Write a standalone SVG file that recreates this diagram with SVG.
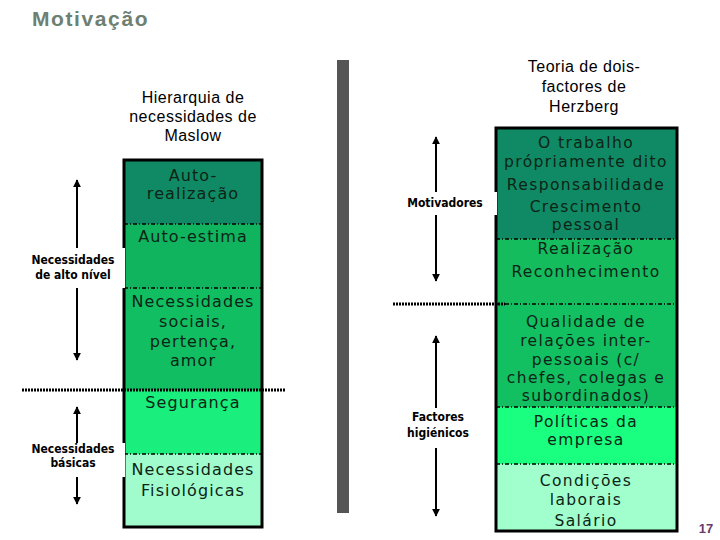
<svg xmlns="http://www.w3.org/2000/svg" width="720" height="540" viewBox="0 0 720 540">
<style>
.t{font-family:"DejaVu Sans",Verdana,sans-serif;font-size:16px;fill:#0d2416;text-anchor:middle;letter-spacing:1.1px}
.r{font-size:15.5px;letter-spacing:1.4px}
.h{font-family:"Liberation Sans",Arial,sans-serif;font-size:16px;fill:#000;text-anchor:middle;letter-spacing:0.5px}
.l{font-family:"DejaVu Sans Condensed","DejaVu Sans",sans-serif;font-weight:bold;font-size:12px;fill:#000;text-anchor:middle}
.sep{stroke:#000;stroke-width:1.3;stroke-dasharray:4 2 1 2;fill:none}
.dot{stroke:#000;stroke-width:3;stroke-dasharray:2 1;fill:none}
.arr{stroke:#000;stroke-width:2;fill:none;marker-start:url(#ah);marker-end:url(#ah)}
.box{fill:none;stroke:#000;stroke-width:3}
</style>
<defs>
<marker id="ah" viewBox="0 0 10 10" refX="9" refY="5" markerWidth="4" markerHeight="4" orient="auto-start-reverse">
<path d="M0,0 L10,5 L0,10 z" fill="#000"/>
</marker>
</defs>
<rect width="720" height="540" fill="#fff"/>
<text x="32" y="26" font-family="Liberation Sans,Arial,sans-serif" font-weight="bold" font-size="21" letter-spacing="1.6" fill="#6e8072">Motivação</text>
<rect x="337" y="60" width="12" height="453" fill="#555"/>
<text x="706" y="533" font-family="Liberation Sans,Arial,sans-serif" font-weight="bold" font-size="13" fill="#6a3a6a" text-anchor="middle">17</text>

<g id="maslow-title">
<text class="h" x="193" y="103">Hierarquia de</text>
<text class="h" x="193" y="122">necessidades de</text>
<text class="h" x="193" y="141">Maslow</text>
</g>
<g id="maslow">
<g id="autorealizacao"><rect x="124" y="160" width="138" height="64" fill="#108a64"/>
<text class="t" x="193" y="181">Auto-</text><text class="t" x="193" y="199">realização</text></g>
<g id="autoestima"><rect x="124" y="224" width="138" height="64" fill="#10b35e"/>
<text class="t" x="193" y="242">Auto-estima</text></g>
<g id="sociais"><rect x="124" y="288" width="138" height="102" fill="#12be62"/>
<text class="t" x="193" y="307">Necessidades</text><text class="t" x="193" y="327">sociais,</text><text class="t" x="193" y="347">pertença,</text><text class="t" x="193" y="366">amor</text></g>
<g id="seguranca"><rect x="124" y="390" width="138" height="64" fill="#1aee7c"/>
<text class="t" x="193" y="408">Segurança</text></g>
<g id="fisiologicas"><rect x="124" y="454" width="138" height="73" fill="#a0fccc"/>
<text class="t" x="193" y="475">Necessidades</text><text class="t" x="193" y="496">Fisiológicas</text></g>
<rect class="box" x="124" y="160" width="138" height="367"/>
<line class="sep" x1="124" y1="224" x2="262" y2="224"/>
<line class="sep" x1="124" y1="288" x2="262" y2="288"/>
<line class="sep" x1="124" y1="454" x2="262" y2="454"/>
</g>

<g id="herzberg-title">
<text class="h" x="584" y="72">Teoria de dois-</text>
<text class="h" x="584" y="92">factores de</text>
<text class="h" x="584" y="112">Herzberg</text>
</g>
<g id="herzberg">
<g id="trabalho"><rect x="496" y="128" width="181" height="111" fill="#108a64"/>
<text class="t r" x="586" y="148">O trabalho</text><text class="t r" x="586" y="167">própriamente dito</text><text class="t r" x="586" y="190">Responsabilidade</text><text class="t r" x="586" y="212">Crescimento</text><text class="t r" x="586" y="230">pessoal</text></g>
<g id="realizacao"><rect x="496" y="239" width="181" height="65" fill="#14bc5e"/>
<text class="t r" x="586" y="254">Realização</text><text class="t r" x="586" y="277">Reconhecimento</text></g>
<g id="qualidade"><rect x="496" y="304" width="181" height="103" fill="#12c062"/>
<text class="t r" x="586" y="327">Qualidade de</text><text class="t r" x="586" y="346">relações inter-</text><text class="t r" x="586" y="365">pessoais (c/</text><text class="t r" x="586" y="383">chefes, colegas e</text><text class="t r" x="586" y="401">subordinados)</text></g>
<g id="politicas"><rect x="496" y="407" width="181" height="57" fill="#1aff80"/>
<text class="t r" x="586" y="427">Políticas da</text><text class="t r" x="586" y="445">empresa</text></g>
<g id="condicoes"><rect x="496" y="464" width="181" height="67" fill="#a0ffcc"/>
<text class="t r" x="586" y="486">Condições</text><text class="t r" x="586" y="505">laborais</text><text class="t r" x="586" y="526">Salário</text></g>
<rect class="box" x="496" y="128" width="181" height="403"/>
<line class="sep" x1="496" y1="239" x2="677" y2="239"/>
<line class="sep" x1="496" y1="304" x2="677" y2="304"/>
<line class="sep" x1="496" y1="407" x2="677" y2="407"/>
<line class="sep" x1="496" y1="464" x2="677" y2="464"/>
</g>

<g id="connectors">
<line class="dot" x1="22" y1="390" x2="285" y2="390"/>
<line class="dot" x1="393" y1="304" x2="505" y2="304"/>
<line class="arr" x1="77" y1="180" x2="77" y2="360"/>
<line class="arr" x1="77" y1="407" x2="77" y2="504"/>
<line class="arr" x1="436" y1="137" x2="436" y2="281"/>
<line class="arr" x1="436" y1="336" x2="436" y2="516"/>
</g>

<g id="label-alto">
<rect x="28" y="248" width="97" height="40" fill="#fff"/>
<text class="l" x="73" y="264">Necessidades</text><text class="l" x="73" y="279">de alto nível</text>
</g>
<g id="label-basicas">
<rect x="28" y="443" width="97" height="34" fill="#fff"/>
<text class="l" x="73" y="453">Necessidades</text><text class="l" x="73" y="467">básicas</text>
</g>
<g id="label-motivadores">
<rect x="402" y="192" width="95" height="23" fill="#fff"/>
<text class="l" x="445" y="207">Motivadores</text>
</g>
<g id="label-higienicos">
<rect x="400" y="408" width="76" height="40" fill="#fff"/>
<text class="l" x="438" y="421">Factores</text><text class="l" x="438" y="437">higiénicos</text>
</g>
</svg>
